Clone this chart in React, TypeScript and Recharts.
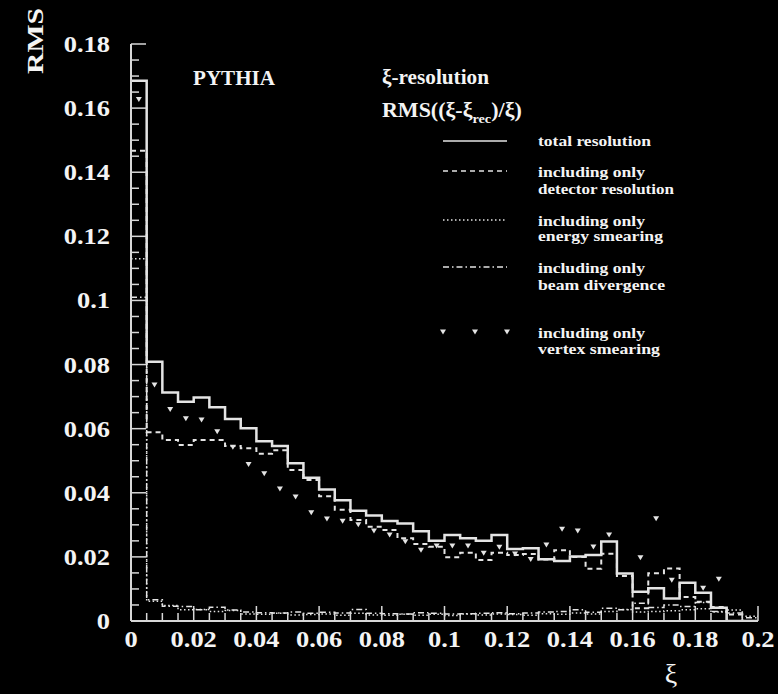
import React from 'react';
import { ComposedChart, Line, XAxis, YAxis } from 'recharts';

// ---------------- data ----------------
const xiBinEdges = [
  0, 0.005, 0.01, 0.015, 0.02, 0.025, 0.03, 0.035, 0.04, 0.045,
  0.05, 0.055, 0.06, 0.065, 0.07, 0.075, 0.08, 0.085, 0.09, 0.095,
  0.1, 0.105, 0.11, 0.115, 0.12, 0.125, 0.13, 0.135, 0.14, 0.145,
  0.15, 0.155, 0.16, 0.165, 0.17, 0.175, 0.18, 0.185, 0.19, 0.195, 0.2,
];

const totalResolution = [
  0.1685, 0.0809, 0.0713, 0.0684, 0.0697, 0.0667, 0.063, 0.0601, 0.0561, 0.0546,
  0.0492, 0.0447, 0.041, 0.0377, 0.0344, 0.0329, 0.0312, 0.0304, 0.028, 0.025,
  0.0268, 0.0258, 0.025, 0.0268, 0.0225, 0.0227, 0.0193, 0.0187, 0.0201, 0.0206,
  0.0248, 0.0148, 0.0091, 0.0102, 0.007, 0.0119, 0.0088, 0.0041, 0, 0,
];

const detectorOnly = [
  0.1467, 0.0589, 0.0565, 0.0549, 0.0565, 0.0565, 0.0546, 0.0539, 0.0522, 0.0533,
  0.0471, 0.044, 0.0389, 0.0347, 0.0315, 0.0294, 0.0284, 0.0258, 0.024, 0.0232,
  0.0199, 0.0213, 0.019, 0.0213, 0.0206, 0.0209, 0.0192, 0.0221, 0.02, 0.0163,
  0.021, 0.014, 0.004, 0.0149, 0.0164, 0.0075, 0.006, 0.0044, 0.002, 0,
];

const energyOnly = [
  0.113, 0.0062, 0.0048, 0.0035, 0.0036, 0.003, 0.0033, 0.0022, 0.0021, 0.0024,
  0.0019, 0.002, 0.0022, 0.0018, 0.0024, 0.0019, 0.0018, 0.0021, 0.0018, 0.0021,
  0.0017, 0.0022, 0.0019, 0.0022, 0.002, 0.0018, 0.0023, 0.0021, 0.0025, 0.0022,
  0.003, 0.0036, 0.0028, 0.003, 0.0032, 0.0035, 0.0038, 0.0028, 0.0034, 0.0015,
];

const beamOnly = [
  0.101, 0.0066, 0.0046, 0.0045, 0.0035, 0.0043, 0.0034, 0.0028, 0.0026, 0.0025,
  0.0028, 0.0024, 0.0027, 0.0025, 0.0036, 0.0024, 0.0023, 0.0022, 0.0026, 0.0024,
  0.0022, 0.0023, 0.0024, 0.0026, 0.0023, 0.0025, 0.0028, 0.003, 0.0035, 0.0027,
  0.004, 0.0035, 0.0055, 0.0042, 0.005, 0.0045, 0.0058, 0.003, 0.0025, 0.001,
];

const vertexOnly: (number | null)[] = [
  0.1627, 0.0736, 0.066, 0.0631, 0.0627, 0.059, 0.0542, 0.0488, 0.0459, 0.0412,
  0.0387, 0.0338, 0.0318, 0.0311, 0.03, 0.0281, 0.0268, 0.0247, 0.0221, 0.0234,
  0.0234, 0.0234, 0.0211, 0.023, 0.0209, 0.0192, 0.0237, 0.0286, 0.0281, 0.0231,
  0.0268, null, 0.0197, 0.0319, 0.0127, null, 0.0102, 0.013, null, null,
];

const xMajorTicks = [0, 0.02, 0.04, 0.06, 0.08, 0.1, 0.12, 0.14, 0.16, 0.18, 0.2];
const xTickLabels = ['0', '0.02', '0.04', '0.06', '0.08', '0.1', '0.12', '0.14', '0.16', '0.18', '0.2'];
const yMajorTicks = [0, 0.02, 0.04, 0.06, 0.08, 0.1, 0.12, 0.14, 0.16, 0.18];
const yTickLabels = ['0', '0.02', '0.04', '0.06', '0.08', '0.1', '0.12', '0.14', '0.16', '0.18'];
const yMinorTicks = [
  0, 0.005, 0.01, 0.015, 0.02, 0.025, 0.03, 0.035, 0.04, 0.045, 0.05, 0.055, 0.06,
  0.065, 0.07, 0.075, 0.08, 0.085, 0.09, 0.095, 0.1, 0.105, 0.11, 0.115, 0.12, 0.125,
  0.13, 0.135, 0.14, 0.145, 0.15, 0.155, 0.16, 0.165, 0.17, 0.175, 0.18,
];

// ---------------- derived tables ----------------
const nBins = totalResolution.length;
const stepRows = xiBinEdges.map((x, i) => {
  const k = Math.min(i, nBins - 1);
  return {
    x,
    total: totalResolution[k],
    detector: detectorOnly[k],
    energy: energyOnly[k],
    beam: beamOnly[k],
  };
});

const vertexPoints = vertexOnly
  .map((v, i) => (v == null ? null : { x: (xiBinEdges[i] + xiBinEdges[i + 1]) / 2, vertex: v }))
  .filter((p) => p !== null) as { x: number; vertex: number }[];

// ---------------- styles ----------------
const FONT = '"Liberation Serif", "Times New Roman", Times, serif';
const FRAME = '#d8d8d8';
const LINE = '#e4e4e4';
const TEXT = '#f4f4f4';

const near = (a: number, b: number) => Math.abs(a - b) < 1e-7;
const isMajor = (v: number) => Math.abs(v / 0.02 - Math.round(v / 0.02)) < 1e-6;
const labelOf = (v: number, majors: number[], labels: string[]) => {
  const i = majors.findIndex((m) => near(m, v));
  return i >= 0 ? labels[i] : null;
};

const MAJOR_LEN = 15;
const MINOR_LEN = 8;

function BottomTick(props: any) {
  const { x, y, payload } = props;
  const v = payload.value;
  const label = labelOf(v, xMajorTicks, xTickLabels);
  return (
    <g>
      <line x1={x} x2={x} y1={y} y2={y - (isMajor(v) ? MAJOR_LEN : MINOR_LEN)} stroke={FRAME} strokeWidth={1.5} />
      {label !== null && (
        <text
          transform={`translate(${x},${y + 26}) scale(1.15,1)`}
          textAnchor="middle"
          fontFamily={FONT}
          fontWeight="bold"
          fontSize={23}
          fill={TEXT}
        >
          {label}
        </text>
      )}
    </g>
  );
}

function TopTick(props: any) {
  const { x, y, payload } = props;
  const v = payload.value;
  return <line x1={x} x2={x} y1={y} y2={y + (isMajor(v) ? MAJOR_LEN : MINOR_LEN)} stroke={FRAME} strokeWidth={1.5} />;
}

function LeftTick(props: any) {
  const { x, y, payload } = props;
  const v = payload.value;
  const label = labelOf(v, yMajorTicks, yTickLabels);
  return (
    <g>
      <line x1={x} x2={x + (isMajor(v) ? MAJOR_LEN : MINOR_LEN)} y1={y} y2={y} stroke={FRAME} strokeWidth={1.5} />
      {label !== null && (
        <text
          transform={`translate(${x - 21},${y + 8}) scale(1.15,1)`}
          textAnchor="end"
          fontFamily={FONT}
          fontWeight="bold"
          fontSize={23}
          fill={TEXT}
        >
          {label}
        </text>
      )}
    </g>
  );
}

function RightTick(props: any) {
  const { x, y, payload } = props;
  const v = payload.value;
  return <line x1={x} x2={x - (isMajor(v) ? MAJOR_LEN : MINOR_LEN)} y1={y} y2={y} stroke={FRAME} strokeWidth={1.5} />;
}

function TriangleDot(props: any) {
  const { cx, cy, index } = props;
  if (cx == null || cy == null || Number.isNaN(cy)) return <g key={`t-${index}`} />;
  return (
    <path
      key={`t-${index}`}
      d={`M${cx - 3},${cy - 2.5} L${cx + 3},${cy - 2.5} L${cx},${cy + 2.5} Z`}
      fill={LINE}
      stroke="none"
    />
  );
}

const legendItems = [
  { kind: 'solid', y: 141, lines: [{ t: 'total resolution', y: 146, w: 113 }] },
  { kind: 'dashed', y: 171, lines: [{ t: 'including only', y: 177, w: 107 }, { t: 'detector resolution', y: 194, w: 136 }] },
  { kind: 'dotted', y: 220, lines: [{ t: 'including only', y: 226, w: 107 }, { t: 'energy smearing', y: 241, w: 125 }] },
  { kind: 'dashdot', y: 267, lines: [{ t: 'including only', y: 273, w: 107 }, { t: 'beam divergence', y: 290, w: 127 }] },
  { kind: 'marker', y: 332, lines: [{ t: 'including only', y: 338, w: 107 }, { t: 'vertex smearing', y: 354, w: 122 }] },
];

const dashFor: Record<string, string | undefined> = {
  solid: undefined,
  dashed: '5 4',
  dotted: '1.5 2.5',
  dashdot: '6 3 1.5 3',
};

function Overlay() {
  return (
    <svg
      width={778}
      height={694}
      style={{ position: 'absolute', left: 0, top: 0, pointerEvents: 'none' }}
    >
      <g fontFamily={FONT} fontWeight="bold" fill={TEXT}>
        <text x={193} y={85} fontSize={20} textLength={82} lengthAdjust="spacingAndGlyphs">PYTHIA</text>
        <text x={382} y={84} fontSize={20} textLength={107} lengthAdjust="spacingAndGlyphs">ξ-resolution</text>
        <text x={382} y={117} fontSize={20} transform="translate(382,0) scale(1.1,1) translate(-382,0)">
          RMS((ξ-ξ<tspan fontSize={13} dy={6}>rec</tspan><tspan dy={-6}>)/ξ)</tspan>
        </text>
        {legendItems.map((it) => (
          <g key={it.kind}>
            {it.kind === 'marker' ? (
              [443, 475, 507].map((mx) => (
                <path key={mx} d={`M${mx - 3},${it.y - 2.5} L${mx + 3},${it.y - 2.5} L${mx},${it.y + 2.5} Z`} fill={LINE} />
              ))
            ) : (
              <line
                x1={443}
                x2={507}
                y1={it.y}
                y2={it.y}
                stroke={LINE}
                strokeWidth={1.5}
                strokeDasharray={dashFor[it.kind]}
              />
            )}
            {it.lines.map((ln) => (
              <text key={ln.t + ln.y} x={538} y={ln.y} fontSize={14.5} textLength={ln.w} lengthAdjust="spacingAndGlyphs">
                {ln.t}
              </text>
            ))}
          </g>
        ))}
        <text
          transform="translate(43,74) rotate(-90)"
          fontSize={24}
          textLength={66}
          lengthAdjust="spacingAndGlyphs"
        >
          RMS
        </text>
      </g>
      <text x={671} y={683} fontFamily={FONT} fontSize={28} fill={TEXT} textAnchor="middle">ξ</text>
    </svg>
  );
}

export default function App() {
  return (
    <div style={{ position: 'absolute', left: 0, top: 0, width: 778, height: 694, background: '#000', overflow: 'hidden' }}>
      <ComposedChart
        width={778}
        height={694}
        data={stepRows}
        margin={{ top: 44, right: 20, bottom: 0, left: 0 }}
      >
        <XAxis
          dataKey="x"
          type="number"
          domain={[0, 0.2]}
          allowDataOverflow
          ticks={xiBinEdges}
          interval={0}
          height={73}
          tickSize={0}
          tickMargin={0}
          tickLine={false}
          axisLine={{ stroke: FRAME, strokeWidth: 2 }}
          tick={BottomTick}
        />
        <XAxis
          xAxisId="top"
          orientation="top"
          dataKey="x"
          type="number"
          domain={[0, 0.2]}
          allowDataOverflow
          ticks={xiBinEdges}
          interval={0}
          height={0}
          tickSize={0}
          tickMargin={0}
          tickLine={false}
          axisLine={{ stroke: FRAME, strokeWidth: 2 }}
          tick={TopTick}
        />
        <YAxis
          type="number"
          domain={[0, 0.18]}
          allowDataOverflow
          ticks={yMinorTicks}
          interval={0}
          width={131}
          tickSize={0}
          tickMargin={0}
          tickLine={false}
          axisLine={{ stroke: FRAME, strokeWidth: 2 }}
          tick={LeftTick}
        />
        <YAxis
          yAxisId="right"
          orientation="right"
          type="number"
          domain={[0, 0.18]}
          allowDataOverflow
          ticks={yMinorTicks}
          interval={0}
          width={0}
          tickSize={0}
          tickMargin={0}
          tickLine={false}
          axisLine={{ stroke: FRAME, strokeWidth: 2 }}
          tick={RightTick}
        />
        <Line type="stepAfter" dataKey="beam" stroke={LINE} strokeWidth={1.5} strokeDasharray="6 3 1.5 3" dot={false} isAnimationActive={false} />
        <Line type="stepAfter" dataKey="energy" stroke={LINE} strokeWidth={1.5} strokeDasharray="1.5 2.5" dot={false} isAnimationActive={false} />
        <Line type="stepAfter" dataKey="detector" stroke={LINE} strokeWidth={2} strokeDasharray="5 4" dot={false} isAnimationActive={false} />
        <Line type="stepAfter" dataKey="total" stroke={LINE} strokeWidth={2.5} dot={false} isAnimationActive={false} />
        <Line
          data={vertexPoints}
          dataKey="vertex"
          stroke="none"
          dot={TriangleDot}
          activeDot={false}
          isAnimationActive={false}
        />
      </ComposedChart>
      <Overlay />
    </div>
  );
}
